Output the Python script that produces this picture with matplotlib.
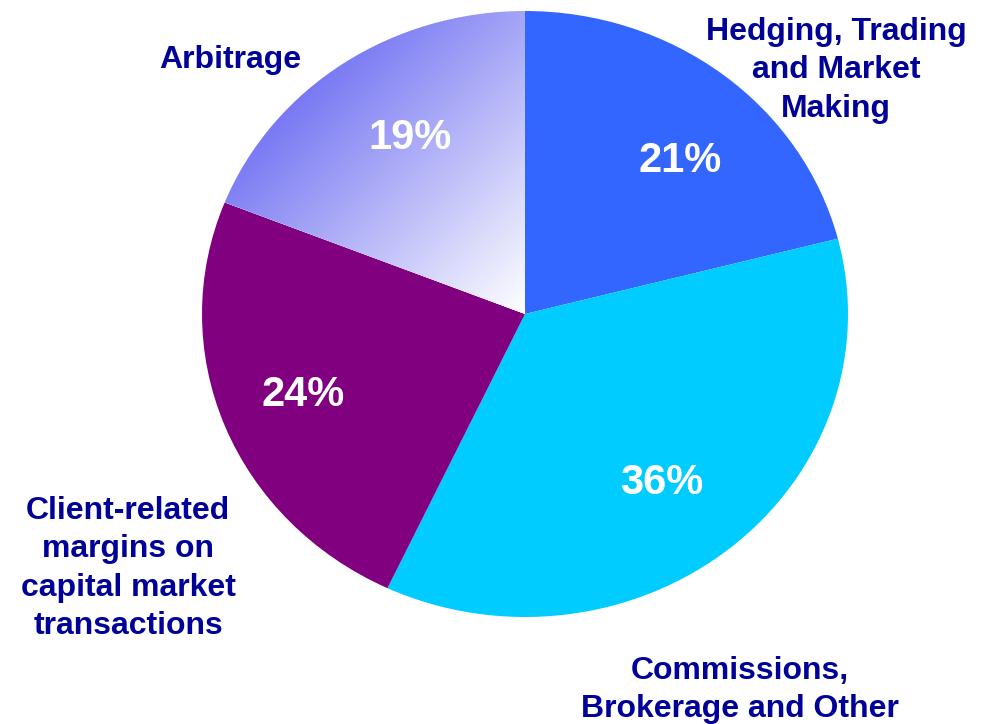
import numpy as np
import matplotlib
matplotlib.use("Agg")
import matplotlib.pyplot as plt
from matplotlib.colors import LinearSegmentedColormap

# ---- data ----
categories = ["Hedging, Trading\nand Market\nMaking",
              "Commissions,\nBrokerage and Other",
              "Client-related\nmargins on\ncapital market\ntransactions",
              "Arbitrage"]
values = [21, 36, 24, 19]
pct_labels = ["21%", "36%", "24%", "19%"]
colors = ["#3366FF", "#00CCFF", "#800080", "#FFFFFF"]

W, H = 985, 724
fig = plt.figure(figsize=(W / 100, H / 100), dpi=100)
ax = fig.add_axes([0, 0, 1, 1])

# pie geometry in pixels (ellipse)
cx, cy, rx, ry = 525, 314, 323, 303

wedges, _ = ax.pie(values, colors=colors, startangle=90, counterclock=False,
                   radius=1, center=(0, 0),
                   wedgeprops=dict(linewidth=0, edgecolor="none"))
ax.set_aspect("auto")
ax.set_xlim((0 - cx) / rx, (W - cx) / rx)
ax.set_ylim((cy - H) / ry, (cy - 0) / ry)
ax.axis("off")

# gradient fill for the Arbitrage slice (diagonal, over the slice's bounding box)
wg = wedges[3]
th1, th2 = np.deg2rad(wg.theta1), np.deg2rad(wg.theta2)
angs = np.linspace(th1, th2, 200)
xs = np.concatenate([[0], np.cos(angs)])
ys = np.concatenate([[0], np.sin(angs)])
x0d, x1d, y0d, y1d = xs.min(), xs.max(), ys.min(), ys.max()
gx = np.linspace(x0d, x1d, 400)
gy = np.linspace(y1d, y0d, 400)
GX, GY = np.meshgrid(gx, gy)
px = cx + rx * GX
py = cy - ry * GY
px0, px1 = cx + rx * x0d, cx + rx * x1d
py0, py1 = cy - ry * y1d, cy - ry * y0d
t = ((px - px0) + (py - py0)) / ((px1 - px0) + (py1 - py0))
cmap = LinearSegmentedColormap.from_list("arb", ["#4848F0", "#FFFFFF"])
im = ax.imshow(t, cmap=cmap, vmin=0, vmax=1, extent=(x0d, x1d, y0d, y1d),
               aspect="auto", interpolation="bilinear", zorder=wg.get_zorder() + 0.1)
im.set_clip_path(wg)

font = "Liberation Sans"
navy = "#000099"

def ftext(xp, yp, s, **kw):
    fig.text(xp / W, 1 - yp / H, s, family=font, fontweight="bold", **kw)

# percent labels (baseline positions in pixels)
pct_pos = [(680, 172), (662, 494), (303, 406), (410, 149)]
for (xp, yp), s in zip(pct_pos, pct_labels):
    ftext(xp, yp, s, fontsize=30, color="white", ha="center", va="baseline")

# category labels: each line placed by baseline
label_pos = [(836, 40), (740, 679), (128, 519), (230, 68)]
for (xp, yp), s in zip(label_pos, categories):
    for i, line in enumerate(s.split("\n")):
        ftext(xp, yp + i * 38.3, line, fontsize=23, color=navy,
              ha="center", va="baseline")

fig.savefig("out.png", dpi=100)
